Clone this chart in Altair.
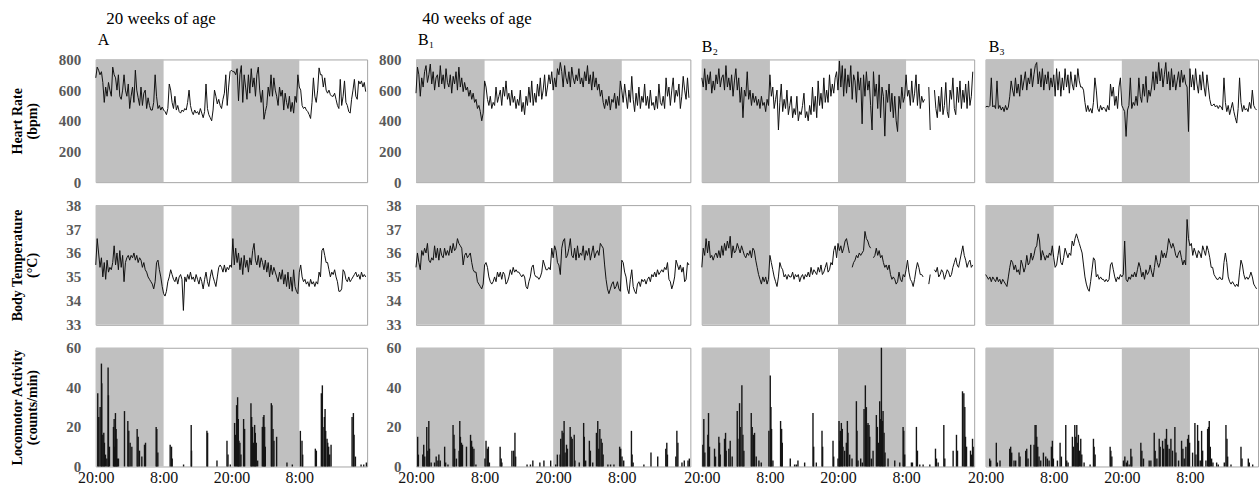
import altair as alt
import pandas as pd

SERIF = "Liberation Serif, Times New Roman, serif"
STEP_H = 0.25  # 15-minute samples

# ---------------- Heart rate (bpm), 4 samples per hour, 48 h ----------------
HR_A = [
    680, 750, 730, 700,  720, 650, 520, 620,  560, 650, 600, 560,  750, 700, 680, 600,
    700, 560, 540, 600,  700, 600, 560, 640,  480, 560, 620, 520,  730, 600, 550, 500,
    620, 500, 580, 600,  480, 550, 500, 470,  470, 520, 700, 560,  480, 500, 470, 490,
    470, 460, 440, 480,  640, 600, 520, 480,  560, 470, 500, 460,  450, 470, 460, 480,
    470, 520, 600, 500,  460, 440, 470, 450,  460, 440, 480, 450,  420, 460, 640, 480,
    440, 420, 400, 470,  600, 560, 510, 540,  500, 480, 540, 580,  700, 500, 620, 720,
    730, 720, 720, 700,  740, 530, 700, 760,  520, 700, 620, 540,  700, 580, 740, 620,
    680, 560, 700, 750,  600, 520, 600, 410,  460, 500, 620, 560,  700, 560, 680, 600,
    560, 500, 620, 560,  600, 470, 580, 520,  480, 560, 460, 520,  450, 560, 520, 700,
    620, 600, 500, 480,  490, 470, 460, 440,  415, 520, 680, 560,  520, 600, 745, 700,
    700, 620, 680, 600,  580, 600, 570, 560,  560, 580, 540, 500,  480, 670, 500, 560,
    660, 520, 500, 460,  450, 540, 600, 670,  560, 540, 660, 640,  660, 620, 650, 590,
]
HR_B1 = [
    580, 750, 700, 560,  680, 620, 720, 760,  650, 700, 770, 640,  720, 600, 680, 700,
    620, 760, 640, 700,  610, 740, 650, 620,  700, 580, 690, 640,  720, 600, 750, 620,
    680, 590, 650, 600,  620, 560, 600, 540,  580, 520, 540, 480,  500, 460, 400, 450,
    660, 620, 540, 500,  560, 480, 520, 500,  620, 520, 560, 600,  500, 620, 560, 660,
    540, 580, 500, 600,  520, 560, 480, 540,  500, 600, 460, 520,  440, 560, 500, 620,
    520, 660, 500, 580,  520, 640, 560, 680,  540, 600, 700, 560,  620, 700, 640, 720,
    600, 680, 620, 740,  700, 780, 720, 620,  760, 680, 640, 720,  620, 750, 680, 640,
    700, 660, 740, 640,  680, 620, 720, 660,  760, 640, 700, 600,  720, 620, 680, 600,
    640, 560, 600, 520,  480, 540, 500, 560,  470, 540, 520, 580,  480, 560, 500, 660,
    600, 520, 640, 560,  480, 600, 520, 690,  540, 460, 580, 500,  620, 480, 560, 520,
    640, 500, 560, 480,  600, 500, 520, 470,  560, 480, 640, 520,  500, 560, 480, 680,
    560, 620, 500, 600,  680, 520, 600, 560,  640, 480, 560, 690,  600, 540, 680, 550,
]
HR_B2 = [
    680, 620, 740, 600,  700, 640, 720, 580,  660, 600, 700, 640,  740, 620, 680, 700,
    600, 760, 620, 680,  600, 700, 560, 660,  740, 600, 680, 520,  620, 420, 600, 560,
    720, 540, 600, 500,  580, 520, 560, 500,  540, 480, 560, 500,  520, 460, 540, 500,
    700, 560, 620, 480,  540, 600, 340, 520,  640, 460, 540, 480,  600, 440, 500, 560,
    420, 480, 440, 560,  400, 460, 440, 500,  580, 420, 460, 400,  500, 440, 620, 460,
    560, 420, 660, 500,  580, 480, 680, 520,  600, 520, 700, 560,  640, 580, 680, 720,
    600, 790, 620, 760,  560, 740, 580, 700,  620, 760, 540, 700,  660, 520, 720, 600,
    680, 380, 700, 560,  720, 600, 660, 500,  340, 720, 560, 640,  480, 700, 420, 620,
    560, 300, 600, 520,  640, 460, 580, 420,  560, 400, 330, 560,  480, 620, 520, 560,
    700, 560, 600, 500,  660, 520, 580, 700,  500, 640, 480, 560,  520, 540, None, None,
    620, 340, None, None,  600, 480, 420, 560,  460, 620, 440, 500,  650, 460, 420, 600,
    540, 680, 480, 440,  620, 520, 660, 480,  600, 520, 640, 480,  660, 500, 560, 720,
]
HR_B3 = [
    490, 495, 490, 500,  680, 490, 500, 480,  660, 480, 500, 470,  490, 460, 500, 470,
    490, 560, 660, 600,  560, 680, 580, 640,  560, 700, 600, 660,  720, 600, 680, 640,
    740, 620, 700, 760,  780, 640, 720, 620,  740, 600, 700, 640,  720, 600, 680, 620,
    700, 560, 740, 600,  720, 560, 680, 600,  740, 620, 700, 580,  720, 640, 600, 700,
    620, 740, 660, 620,  620, 600, 520, 460,  500, 460, 480, 450,  520, 680, 600, 480,
    460, 500, 470, 490,  480, 460, 500, 470,  640, 560, 620, 500,  560, 480, 620, 680,
    500, 480, 460, 298,  470, 500, 680, 480,  520, 500, 560, 500,  680, 560, 520, 640,
    560, 690, 520, 600,  560, 620, 720, 600,  720, 640, 780, 660,  740, 620, 700, 780,
    640, 720, 600, 740,  620, 700, 600, 660,  720, 620, 730, 650,  700, 640, 620, 330,
    740, 620, 700, 600,  740, 640, 580, 700,  600, 720, 620, 560,  700, 620, 540, 500,
    500, 510, 490, 500,  480, 500, 490, 470,  680, 520, 460, 500,  440, 480, 520, 460,
    420, 385, 480, 680,  520, 460, 500, 470,  480, 460, 520, 480,  600, 500, 480, 470,
]

# ---------------- Body temperature (deg C), 4 samples per hour ----------------
TEMP_A = [
    35.5, 36.6, 36.0, 35.4,  35.8, 35.0, 35.6, 34.9,  35.7, 35.2, 35.4, 35.3,  35.6, 36.3, 35.5, 36.0,
    35.3, 36.1, 35.4, 35.9,  34.8, 35.6, 35.8, 35.9,  35.7, 35.9, 35.8, 36.0,  35.7, 35.9, 35.6, 35.8,
    35.7, 35.4, 35.6, 35.3,  35.2, 35.0, 34.9, 34.8,  34.7, 34.5, 34.8, 35.6,  35.7, 35.3, 35.0, 34.6,
    34.3, 34.2, 34.4, 34.8,  35.0, 35.3, 35.1, 34.9,  34.8, 35.0, 34.7, 35.0,  35.1, 34.9, 33.6, 35.0,
    34.8, 35.1, 34.9, 35.2,  34.9, 35.0, 34.8, 35.1,  34.9, 34.7, 35.0, 34.8,  34.5, 34.9, 35.2, 34.8,
    34.6, 35.0, 35.3, 35.0,  34.8, 34.6, 35.0, 35.4,  35.5, 35.4, 35.2, 35.5,  35.2, 35.4, 35.3, 35.5,
    35.4, 36.6, 35.5, 36.2,  35.6, 36.0, 35.3, 35.8,  35.1, 35.9, 35.4, 35.7,  35.2, 35.8, 35.5, 36.1,
    36.4, 35.7, 35.5, 35.9,  35.4, 35.8, 35.6, 35.3,  35.7, 35.2, 35.6, 35.0,  35.5, 35.1, 35.4, 35.2,
    35.0, 34.8, 35.2, 34.9,  35.3, 34.7, 35.1, 34.6,  35.2, 34.5, 35.0, 34.4,  35.3, 34.6, 34.4, 34.3,
    35.2, 35.5, 35.0, 34.8,  34.9, 34.7, 34.8, 34.6,  34.9, 34.7, 34.8, 34.6,  34.8, 34.7, 35.2, 35.0,
    36.1, 36.2, 35.9, 35.6,  35.6, 35.3, 35.0, 35.2,  35.1, 35.3, 35.0, 34.8,  34.4, 34.4, 34.5, 35.3,
    35.2, 34.9, 34.8, 35.0,  34.8, 34.9, 35.0, 35.1,  35.2, 35.0, 35.1, 34.9,  35.2, 35.0, 35.1, 35.0,
]
TEMP_B1 = [
    35.4, 36.0, 35.6, 35.3,  36.1, 35.9, 36.2, 36.0,  36.4, 35.7, 35.6, 35.8,  35.7, 36.3, 35.8, 36.2,
    35.7, 36.2, 35.9, 35.8,  36.2, 35.9, 36.1, 35.9,  36.3, 36.0, 36.4, 36.1,  36.2, 36.6, 36.4, 36.3,
    36.2, 35.5, 35.9, 36.0,  35.8, 35.9, 36.0, 35.6,  35.3, 35.2, 35.2, 34.8,  34.7, 34.6, 34.5, 34.7,
    35.5, 35.6, 35.4, 35.0,  34.8, 34.7, 34.8, 35.0,  34.8, 35.2, 35.0, 35.2,  34.9, 35.2, 35.1, 34.7,
    34.8, 35.0, 35.3, 35.1,  35.4, 35.2, 35.3, 35.2,  35.2, 35.1, 35.0, 35.1,  35.0, 34.6, 34.5, 34.8,
    35.0, 35.4, 35.5, 35.1,  35.0, 35.0, 34.9, 35.0,  35.2, 35.7, 35.5, 35.3,  35.3, 35.4, 35.3, 36.2,
    35.8, 36.3, 36.1, 35.6,  35.5, 35.1, 36.2, 36.5,  36.6, 35.8, 35.9, 36.2,  36.6, 35.9, 35.8, 36.2,
    35.7, 36.3, 35.8, 36.0,  35.9, 36.3, 35.7, 36.1,  35.9, 36.2, 35.7, 36.0,  36.3, 35.8, 36.0, 36.1,
    35.9, 36.4, 36.3, 36.2,  35.5, 34.9, 34.5, 34.3,  34.5, 34.7, 34.8, 34.5,  34.6, 34.8, 34.5, 34.4,
    35.7, 35.6, 35.2, 35.0,  34.5, 34.3, 34.9, 35.3,  34.6, 34.4, 34.3, 34.7,  34.8, 34.6, 34.9, 34.8,
    34.9, 34.7, 34.9, 35.0,  34.8, 35.1, 35.0, 35.2,  35.0, 35.3, 35.1, 35.2,  35.3, 35.2, 35.4, 35.3,
    35.6, 34.9, 34.8, 34.5,  34.7, 35.0, 35.7, 35.5,  35.3, 35.5, 35.2, 35.4,  34.8, 34.9, 35.6, 35.5,
]
TEMP_B2 = [
    35.4, 36.2, 35.9, 36.6,  36.0, 36.5, 35.8, 35.9,  35.7, 35.9, 36.0, 35.8,  36.1, 35.8, 36.3, 35.9,
    36.4, 36.1, 36.5, 36.2,  36.7, 35.8, 36.3, 36.0,  36.1, 36.4, 36.2, 36.0,  36.3, 36.1, 35.9, 35.8,
    36.0, 35.9, 36.1, 35.8,  36.2, 36.1, 35.7, 35.4,  35.1, 34.9, 34.7, 35.0,  34.8, 35.0, 34.7, 34.9,
    35.9, 35.6, 35.3, 35.0,  34.8, 34.6, 35.0, 35.6,  35.4, 35.3, 35.0, 35.1,  34.9, 35.1, 35.0, 35.0,
    35.2, 34.9, 35.1, 35.0,  35.1, 34.8, 35.0, 35.1,  34.9, 35.1, 35.0, 35.2,  35.0, 35.4, 35.1, 35.3,
    35.2, 35.1, 35.4, 35.2,  35.5, 35.1, 35.2, 35.4,  35.6, 35.2, 35.3, 35.6,  35.5, 36.1, 36.3, 35.8,
    36.4, 36.1, 36.3, 36.0,  36.2, 36.5, 36.6, 36.3,  36.0, None, 35.4, 35.6,  35.7, 35.9, 35.8, 36.0,
    35.9, 36.0, 36.1, 36.9,  36.6, 36.5, 36.3, 36.2,  None, 35.8, 35.9, 36.2,  35.9, 36.1, 35.8, 35.9,
    35.6, 35.4, 35.5, 35.3,  35.5, 35.1, 34.9, 35.0,  34.9, 34.7, 34.8, 35.2,  34.9, 34.8, 35.1, 35.0,
    35.3, 35.7, 35.2, 34.9,  34.8, 34.6, 34.9, 35.3,  35.6, 35.4, 35.1, 35.1,  35.0, None, None, None,
    34.7, 35.1, None, None,  35.3, 35.2, 35.4, 35.0,  35.1, 35.3, 35.2, 34.9,  35.1, 35.3, 35.2, 35.0,
    35.1, 35.4, 35.6, 35.8,  35.5, 35.4, 35.7, 36.0,  36.3, 35.9, 35.7, 35.4,  35.6, 35.7, 35.4, 35.5,
]
TEMP_B3 = [
    35.1, 35.0, 34.9, 35.0,  34.8, 35.0, 34.9, 34.8,  35.0, 34.8, 34.9, 34.7,  34.9, 34.8, 34.7, 34.6,
    35.0, 35.4, 35.7, 35.6,  35.3, 35.5, 35.2, 35.3,  35.1, 35.7, 35.5, 35.2,  35.4, 35.9, 35.5, 35.6,
    36.0, 35.7, 35.9, 36.2,  36.3, 36.8, 36.5, 35.7,  36.1, 35.9, 35.7, 35.9,  35.8, 36.0, 35.9, 36.3,
    35.8, 35.4, 35.5, 35.9,  36.3, 35.6, 35.5, 35.8,  36.2, 36.0, 35.8, 36.0,  35.9, 36.5, 36.3, 36.6,
    36.8, 36.6, 36.4, 36.2,  36.0, 35.5, 35.0, 34.7,  34.5, 34.4, 34.8, 35.3,  35.8, 35.7, 35.0, 35.1,
    34.9, 35.0, 34.9, 34.9,  34.8, 34.9, 34.8, 34.9,  35.5, 35.6, 35.3, 35.0,  34.8, 35.0, 34.9, 35.1,
    35.0, 35.1, 36.5, 34.9,  34.8, 35.0, 34.9, 35.1,  35.0, 35.2, 35.0, 35.3,  35.6, 35.4, 35.0, 35.2,
    34.9, 35.3, 35.1, 35.2,  35.5, 35.2, 35.0, 35.4,  35.9, 35.6, 35.4, 35.6,  36.1, 35.8, 36.0, 35.8,
    36.1, 36.6, 36.4, 36.2,  36.4, 36.2, 35.9, 35.8,  36.0, 36.1, 35.8, 35.5,  35.7, 35.5, 37.4, 36.6,
    36.3, 36.4, 35.9, 36.2,  36.0, 35.8, 36.1, 36.0,  35.8, 36.3, 36.1, 35.9,  36.3, 36.1, 35.8, 35.4,
    35.4, 35.1, 35.0, 34.9,  34.9, 35.0, 34.9, 34.9,  35.6, 36.0, 35.6, 35.0,  34.8, 34.7, 34.8, 34.7,
    34.6, 34.7, 34.6, 35.2,  35.7, 35.5, 35.1, 34.9,  35.0, 34.9, 35.0, 35.2,  35.0, 34.7, 34.6, 34.5,
]

# ---------------- Locomotor activity (counts/min): burst times (h) and heights ----------------
ACT_A_T = [0.35, 0.53, 0.77, 1.0, 1.06, 1.24, 1.42, 1.53, 1.71, 1.95, 2.18, 2.24, 2.42,
           3.13, 3.25, 3.36, 3.48, 3.6, 3.72, 3.84, 4.01, 5.08, 5.67, 5.84, 6.08, 6.38,
           7.32, 7.5, 7.73, 8.15, 8.62, 8.8, 10.68, 10.8, 10.98,
           13.16, 13.4, 13.52, 15.53, 16.88, 16.94, 19.66, 19.78, 21.44, 23.21, 23.39, 23.8,
           24.56, 24.73, 24.91, 25.09, 25.21, 25.33, 25.5, 25.68, 26.15, 26.33,
           27.45, 27.57, 27.74, 27.92, 28.1, 28.22, 28.39, 28.63,
           29.46, 29.63, 29.75, 29.87, 29.99, 31.05, 31.17, 31.35, 31.52, 31.99, 33.82, 34.77,
           36.19, 36.48, 36.6, 38.84, 39.02, 39.9, 40.08, 40.2, 40.44, 40.56, 40.67, 40.91,
           41.03, 41.2, 41.38, 41.62, 45.34, 45.57, 45.69, 45.93, 46.93, 47.4, 47.87]
ACT_A_V = [37, 25, 30, 52, 42, 16, 17, 12, 6, 4, 50, 36, 10,
           20, 24, 10, 27, 19, 14, 4, 4, 28, 23, 18, 12, 10,
           19, 15, 8, 5, 11, 12, 20, 19, 7,
           11, 10, 4, 1, 21, 8, 18, 17, 3, 13, 6, 1,
           22, 16, 31, 35, 24, 13, 12, 6, 24, 19,
           32, 25, 20, 12, 21, 17, 12, 3,
           20, 25, 26, 20, 10, 32, 31, 19, 13, 15, 2, 1,
           18, 13, 6, 9, 8, 37, 41, 20, 25, 29, 18, 14,
           12, 10, 6, 11, 25, 27, 16, 5, 1, 1, 2]

ACT_B1_T = [0.29, 0.41, 1.18, 1.35, 1.53, 1.88, 2.06, 2.24, 2.36, 2.65, 3.24, 3.53, 3.83, 4.0,
            4.24, 5.01, 5.18, 5.59, 6.48, 6.65, 6.77, 7.07, 7.54, 7.66, 7.77, 7.95, 8.13, 8.83,
            9.54, 9.72, 9.89, 10.13, 10.48,
            12.07, 12.25, 12.49, 12.66, 12.84, 14.72, 14.9, 15.02, 16.78, 17.08, 17.31, 17.43,
            19.43, 20.02, 20.44, 21.67, 22.38, 23.56,
            24.44, 24.73, 25.21, 25.32, 25.56, 25.74, 25.91, 26.09, 26.33, 26.5, 26.97, 27.15,
            27.33, 27.68, 27.8, 28.56, 29.33, 29.45, 29.68, 30.33, 30.51, 30.92, 31.57, 31.8,
            31.98, 32.16, 32.39, 32.57, 32.74, 33.57, 34.04, 34.63, 35.63, 35.81, 36.04,
            36.34, 37.69, 37.81, 37.99, 39.87, 41.11, 42.29, 43.7, 43.88, 43.99, 45.46, 45.64,
            45.82, 46.53, 46.94, 47.59, 47.82]
ACT_B1_V = [15, 6, 6, 11, 5, 20, 8, 23, 9, 2, 2, 5, 3, 6,
            3, 10, 2, 1, 21, 16, 9, 4, 8, 23, 15, 12, 11, 10,
            16, 13, 10, 9, 1,
            4, 13, 9, 10, 2, 10, 4, 2, 8, 8, 17, 5,
            1, 1, 3, 2, 3, 3,
            1, 6, 6, 14, 18, 17, 23, 7, 11, 9, 20, 15,
            14, 16, 3, 2, 22, 15, 3, 13, 8, 2, 17, 23,
            9, 19, 14, 12, 6, 1, 1, 1, 10, 9, 5,
            3, 18, 6, 2, 1, 7, 5, 9, 12, 6, 5, 18,
            12, 2, 3, 3, 4]

ACT_B2_T = [0.18, 0.35, 0.53, 1.06, 1.18, 1.35, 2.24, 2.41, 3.0, 3.12, 3.24, 4.0, 4.18, 4.29,
            4.76, 5.0, 5.35, 6.24, 6.35, 6.65, 6.76, 7.06, 7.24, 7.41, 8.71, 8.88, 9.12, 9.29,
            9.59, 10.06, 10.47, 11.82, 12.06, 12.18, 12.29, 12.53,
            13.88, 14.06, 14.18, 15.59, 16.35, 16.65, 16.94, 18.12, 19.59, 19.71, 20.18, 21.18,
            21.29, 23.12, 23.24,
            24.0, 24.18, 24.29, 24.41, 24.59, 24.76, 24.88, 25.18, 25.47, 25.65, 25.76, 26.06,
            26.47, 27.24, 27.35, 27.53, 28.0, 28.29, 28.59, 28.82, 29.0, 29.12, 29.29, 29.47,
            29.59, 29.88, 30.18, 30.76, 30.94, 31.12, 31.35, 31.47, 31.65, 31.82, 31.94, 32.12,
            32.29, 32.82, 34.0, 34.88, 35.47, 35.59, 35.76,
            36.94, 37.12, 37.82, 38.0, 38.41, 39.0, 40.18, 41.18, 41.35, 41.65, 42.65, 42.82,
            44.29, 44.88, 45.06, 45.94, 46.18, 46.35, 46.47, 46.65, 47.35, 47.53, 47.71, 47.82]
ACT_B2_V = [11, 24, 7, 16, 27, 10, 9, 5, 15, 12, 6, 14, 17, 8,
            9, 13, 5, 28, 14, 32, 20, 41, 16, 8, 27, 20, 16, 17,
            5, 3, 2, 18, 46, 30, 19, 3,
            23, 19, 12, 4, 1, 1, 3, 2, 27, 10, 2, 18,
            10, 13, 5,
            4, 23, 13, 18, 22, 19, 10, 8, 12, 23, 17, 6,
            4, 33, 18, 3, 4, 2, 29, 41, 30, 21, 22, 21,
            15, 4, 8, 26, 20, 12, 33, 24, 60, 23, 28, 17,
            7, 4, 3, 2, 20, 18, 6,
            2, 2, 20, 8, 1, 1, 1, 9, 4, 2, 21, 4,
            8, 16, 8, 38, 37, 30, 15, 10, 8, 6, 14, 10]

ACT_B3_T = [0.71, 0.88, 1.88, 2.06, 2.53, 4.24, 4.41, 4.59, 5.0, 5.29, 5.88, 6.06, 7.06, 7.24,
            7.47, 7.94, 8.53, 8.71, 8.88, 9.0, 9.18, 9.41, 9.71, 10.18, 10.59, 10.88, 11.18,
            11.59, 11.76, 11.94,
            12.65, 13.12, 13.35, 14.12, 14.29, 14.53, 15.29, 15.47, 15.71, 15.88, 16.06, 16.24,
            16.35, 16.53, 16.76, 16.94, 17.35, 18.41, 19.0, 19.12, 19.29, 21.94, 22.06, 22.24,
            24.29, 24.53, 24.82, 25.0, 25.29, 25.59, 25.76, 27.35, 27.53, 27.82, 28.82, 29.12,
            29.71, 29.88, 30.18, 30.59, 30.76, 31.18, 31.35, 31.65, 31.88, 32.06, 32.35, 32.65,
            32.94, 33.35, 33.53, 34.0, 34.53, 34.76, 35.0, 35.29, 35.59, 35.76, 35.94,
            36.47, 36.88, 37.06, 37.35, 37.53, 37.82, 38.06, 38.24, 38.82, 39.12, 39.29, 39.41,
            39.59, 39.82, 40.06, 40.71, 41.0, 42.06, 42.35, 42.53, 42.65, 43.24, 45.0, 45.18,
            46.29, 46.47, 47.06]
ACT_B3_V = [4, 3, 12, 2, 3, 9, 10, 7, 3, 3, 7, 5, 8, 9,
            4, 11, 11, 21, 21, 15, 10, 5, 3, 7, 5, 4, 3,
            10, 13, 4,
            3, 12, 5, 21, 3, 2, 15, 10, 21, 15, 21, 12,
            16, 8, 14, 6, 2, 1, 14, 10, 6, 10, 8, 5,
            3, 5, 2, 3, 1, 9, 5, 12, 8, 4, 3, 3,
            17, 8, 4, 14, 10, 13, 9, 14, 19, 11, 9, 14,
            8, 20, 7, 3, 13, 9, 4, 10, 14, 16, 12,
            7, 22, 6, 21, 13, 3, 18, 8, 3, 19, 20, 23,
            10, 4, 2, 2, 1, 2, 21, 14, 5, 1, 10, 4,
            4, 2, 1]

DARK_START = [0, 24]
DARK_END = [12, 36]
X_TICKS = [0, 12, 24, 36]

HR = {"A": HR_A, "B1": HR_B1, "B2": HR_B2, "B3": HR_B3}
TEMP = {"A": TEMP_A, "B1": TEMP_B1, "B2": TEMP_B2, "B3": TEMP_B3}
ACT = {"A": (ACT_A_T, ACT_A_V), "B1": (ACT_B1_T, ACT_B1_V),
       "B2": (ACT_B2_T, ACT_B2_V), "B3": (ACT_B3_T, ACT_B3_V)}

ROWS = {
    "hr": dict(domain=[0, 800], ticks=[0, 200, 400, 600, 800], title=["Heart Rate", "(bpm)"], height=123),
    "temp": dict(domain=[33, 38], ticks=[33, 34, 35, 36, 37, 38], title=["Body Temperature", "(°C)"], height=120),
    "act": dict(domain=[0, 60], ticks=[0, 20, 40, 60], title=["Locomotor Activity", "(counts/min)"], height=119),
}

COL_WIDTH = {"A": 272, "B1": 275, "B2": 273, "B3": 273}
GAP_WIDTH = 26
LEAD = "\u200c"  # zero-width guard so the leading no-break spaces survive trimming
COL_TITLE = {
    "A": (LEAD + "\u00a0\u00a020 weeks of age", "A", 2),
    "B1": (LEAD + "\u00a040 weeks of age", "B\u2081", 2),
    "B2": (LEAD + "\u00a0", "B\u2082", 0),
    "B3": (LEAD + "\u00a0", "B\u2083", 3),
}

dark_df = pd.DataFrame({"start": DARK_START, "end": DARK_END})


def line_frame(values):
    rows, seg = [], 0
    for i, v in enumerate(values):
        if v is None:
            seg += 1
            continue
        rows.append({"hour": i * STEP_H, "value": v, "seg": seg})
    return pd.DataFrame(rows)


def panel(kind, col):
    cfg = ROWS[kind]
    xscale = alt.Scale(domain=[0, 48], nice=False, zero=False)
    yscale = alt.Scale(domain=cfg["domain"], nice=False, zero=False)
    if kind == "act":
        xaxis = alt.Axis(values=X_TICKS, labelExpr="datum.value % 24 == 0 ? '20:00' : '8:00'",
                         ticks=False, domain=False, grid=False, title=None,
                         labelFont=SERIF, labelFontSize=16, labelColor="#111111",
                         labelPadding=3, labelFlush=False, labelOverlap=False)
    else:
        xaxis = None
    if col in ("A", "B1"):
        yaxis = alt.Axis(values=cfg["ticks"], ticks=False, domain=False, grid=False,
                         labelFont=SERIF, labelFontSize=15, labelFontWeight="bold",
                         labelColor="#595959", labelPadding=15,
                         title=cfg["title"] if col == "A" else None,
                         titleFont=SERIF, titleFontSize=14, titleFontWeight="bold",
                         titleColor="#000000", titleX=-71, titleLineHeight=15)
    else:
        yaxis = None

    shade = alt.Chart(dark_df).mark_rect(color="#c0c0c0").encode(
        x=alt.X("start:Q", scale=xscale, axis=xaxis),
        x2="end:Q",
    )
    if kind == "act":
        t, v = ACT[col]
        df = pd.DataFrame({"hour": t, "value": v, "base": [0] * len(t)})
        data = alt.Chart(df).mark_rule(color="#151515", strokeWidth=1.4).encode(
            x=alt.X("hour:Q", scale=xscale, axis=xaxis),
            y=alt.Y("value:Q", scale=yscale, axis=yaxis),
            y2="base:Q",
        )
    else:
        vals = HR[col] if kind == "hr" else TEMP[col]
        df = line_frame(vals)
        data = alt.Chart(df).mark_line(color="#111111", strokeWidth=1).encode(
            x=alt.X("hour:Q", scale=xscale, axis=xaxis),
            y=alt.Y("value:Q", scale=yscale, axis=yaxis),
            detail="seg:N",
        )
    props = dict(width=COL_WIDTH[col], height=cfg["height"])
    if kind == "hr":
        text, sub, dx = COL_TITLE[col]
        props["title"] = alt.TitleParams(
            text=text, subtitle=sub, anchor="start", frame="group",
            font=SERIF, fontSize=17, fontWeight="normal", color="#000000",
            subtitleFont=SERIF, subtitleFontSize=16, subtitleColor="#000000",
            subtitlePadding=5, offset=3, dx=dx)
    return alt.layer(shade, data).properties(**props)


def spacer(kind):
    return alt.Chart(dark_df).mark_rect(opacity=0).encode(
        x=alt.X("start:Q", axis=None), x2="end:Q"
    ).properties(width=GAP_WIDTH, height=ROWS[kind]["height"],
                 view=alt.ViewBackground(strokeOpacity=0))


cells = []
for kind in ["hr", "temp", "act"]:
    cells.append(panel(kind, "A"))
    cells.append(spacer(kind))
    for col in ["B1", "B2", "B3"]:
        cells.append(panel(kind, col))

chart = alt.concat(
    *cells, columns=5, spacing={"row": 23, "column": 11.5}, bounds="flush"
).configure_view(
    stroke="#a6a6a6", strokeWidth=1
).properties(padding={"left": 10, "top": 8, "right": 0, "bottom": 5})

chart.save("out.html", embed_options={"renderer": "svg", "actions": False})
